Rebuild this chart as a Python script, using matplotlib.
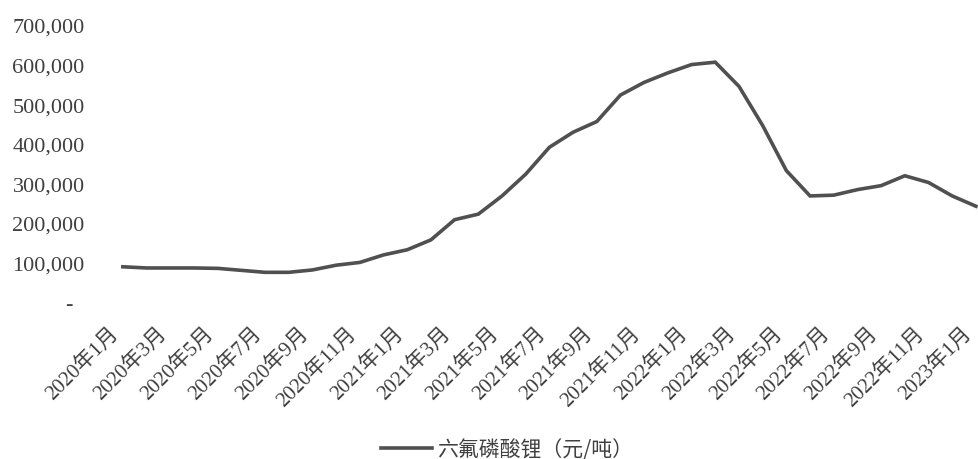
import numpy as np
import matplotlib
matplotlib.use("Agg")
import matplotlib.pyplot as plt
from matplotlib.ticker import FuncFormatter

plt.rcParams['font.family'] = ['Liberation Serif', 'Noto Sans CJK SC', 'DejaVu Sans']

# monthly price, 2020-01 .. 2023-01
months = []
for y in (2020, 2021, 2022, 2023):
    for m in range(1, 13):
        months.append(f"{y}年{m}月")
months = months[:37]

price = [89000, 86000, 86000, 86000, 85000, 80000, 75000, 75000, 81000, 93000,
         100000, 119000, 132000, 157000, 208000, 222000, 268000, 323000, 391000, 429000,
         456000, 523000, 555000, 579000, 600000, 606000, 545000, 446000, 332000, 268000,
         270000, 284000, 294000, 319000, 302000, 268000, 242000]

series_name = "六氟磷酸锂（元/吨）"
yticks = [0, 100000, 200000, 300000, 400000, 500000, 600000, 700000]

txt = '#404040'
line_c = '#505050'

fig = plt.figure(figsize=(9.79, 4.6), dpi=100)
ax = fig.add_axes([0.1134, 0.3413, 0.8866, 0.6022])

x = np.arange(len(price))
ax.plot(x, price, color=line_c, lw=2.6, solid_joinstyle='miter', label=series_name)

ax.set_xlim(-0.5, 36.13)
ax.set_ylim(0, 700000)
ax.set_yticks(yticks)
ax.yaxis.set_major_formatter(FuncFormatter(lambda v, p: "-  " if v == 0 else f"{int(v):,}"))
ax.set_xticks(x[::2])
ax.set_xticklabels(months[::2], rotation=45, ha='right', va='bottom', rotation_mode='anchor')

ax.tick_params(axis='y', length=0, pad=19, labelsize=16, labelcolor=txt)
ax.tick_params(axis='x', length=0, pad=25, labelsize=15, labelcolor=txt)
for s in ax.spines.values():
    s.set_visible(False)

fig.legend(loc='center', bbox_to_anchor=(507 / 979, 0.022), frameon=False,
           handlelength=2.45, handletextpad=0.2,
           prop={'family': ['Noto Sans CJK SC'], 'size': 15}, labelcolor=txt)

fig.savefig("out.png", dpi=100, facecolor='white')
